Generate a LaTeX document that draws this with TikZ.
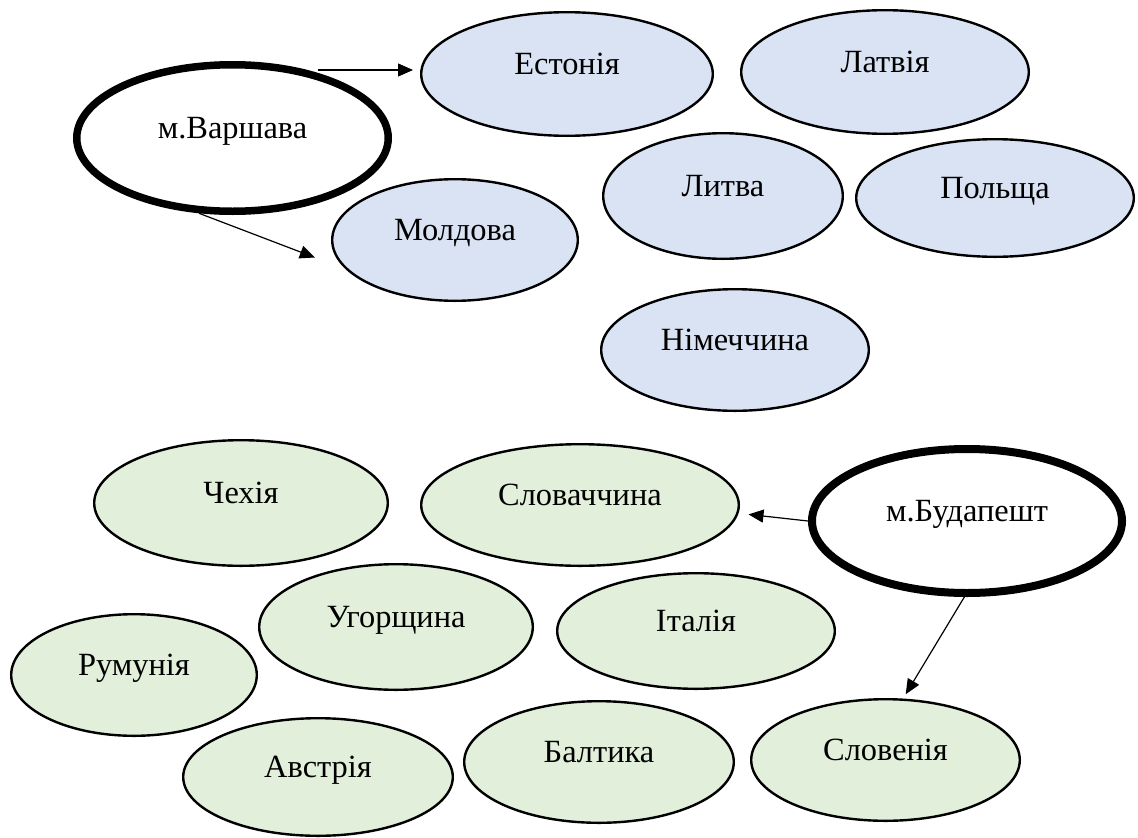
\documentclass[tikz,border=0pt]{standalone}
\usepackage{fontspec}
\setmainfont{Liberation Serif}
\usetikzlibrary{shapes.geometric,arrows.meta}
\definecolor{bluefill}{RGB}{218,227,243}
\definecolor{greenfill}{RGB}{226,239,218}
\tikzset{
  ell/.style={ellipse, draw=black, line width=2.4pt, inner sep=0pt},
  blueell/.style={ell, fill=bluefill},
  greenell/.style={ell, fill=greenfill},
  cityell/.style={ellipse, draw=black, line width=7.5pt, fill=white, inner sep=0pt},
  lbl/.style={anchor=base, inner sep=0pt, font=\fontsize{32.4}{38}\selectfont},
  arr/.style={line width=1.2pt, -{Triangle[length=15pt,width=13pt]}}
}
\begin{document}
\begin{tikzpicture}[x=1pt,y=-1pt]
\useasboundingbox[fill=white] (0,0) rectangle (1138,838);
% blue group
\node[blueell, minimum width=291.6pt, minimum height=123.6pt] (est) at (567,74) {};
\node[blueell, minimum width=287.6pt, minimum height=123.6pt] (lat) at (885,72) {};
\node[blueell, minimum width=239.6pt, minimum height=125.6pt] (lit) at (723,196) {};
\node[blueell, minimum width=277.6pt, minimum height=117.6pt] (pol) at (995,198) {};
\node[blueell, minimum width=245.6pt, minimum height=121.6pt] (mol) at (455,240) {};
\node[blueell, minimum width=267.6pt, minimum height=121.6pt] (nim) at (735,350) {};
\node[cityell, minimum width=311.5pt, minimum height=146.5pt] (war) at (232.5,138) {};
% green group
\node[greenell, minimum width=293.6pt, minimum height=125.6pt] (che) at (241,503) {};
\node[greenell, minimum width=317.6pt, minimum height=121.6pt] (slo) at (580,505) {};
\node[greenell, minimum width=273.6pt, minimum height=125.6pt] (ugo) at (396,627) {};
\node[greenell, minimum width=277.6pt, minimum height=115.6pt] (ita) at (696,631) {};
\node[greenell, minimum width=245.6pt, minimum height=121.6pt] (rum) at (134,675) {};
\node[greenell, minimum width=269.6pt, minimum height=117.6pt] (avs) at (318,777) {};
\node[greenell, minimum width=269.6pt, minimum height=121.6pt] (bal) at (599,762) {};
\node[greenell, minimum width=268.6pt, minimum height=121.6pt] (sln) at (885.5,760) {};
\node[cityell, line width=8pt, minimum width=310pt, minimum height=144pt] (bud) at (967,521) {};
% labels
\node[lbl] (est-t) at (est.center) {Естонія};
\node[lbl] (lat-t) at (lat.center) {Латвія};
\node[lbl] (lit-t) at (lit.center) {Литва};
\node[lbl] (pol-t) at (pol.center) {Польща};
\node[lbl] (mol-t) at (mol.center) {Молдова};
\node[lbl] (nim-t) at (nim.center) {Німеччина};
\node[lbl] (war-t) at (war.center) {м.Варшава};
\node[lbl] (che-t) at (che.center) {Чехія};
\node[lbl] (slo-t) at (slo.center) {Словаччина};
\node[lbl] (ugo-t) at (ugo.center) {Угорщина};
\node[lbl] (ita-t) at (ita.center) {Італія};
\node[lbl] (rum-t) at (rum.center) {Румунія};
\node[lbl] (avs-t) at (avs.center) {Австрія};
\node[lbl] (bal-t) at (bal.center) {Балтика};
\node[lbl] (sln-t) at (sln.center) {Словенія};
\node[lbl] (bud-t) at (bud.center) {м.Будапешт};
% connectors
\coordinate (w1) at ([xshift=85pt,yshift=-9pt]war.north);
\draw[arr, shorten >=7pt] (w1) -- (w1 -| est.west);
\draw[arr, shorten >=33pt] (war.246) -- (mol.195);
\draw[arr, shorten >=10pt] (bud.180) -- (slo.-3.8);
\draw[arr, shorten >=5pt] (bud.268) -- (sln.74);
\end{tikzpicture}
\end{document}
